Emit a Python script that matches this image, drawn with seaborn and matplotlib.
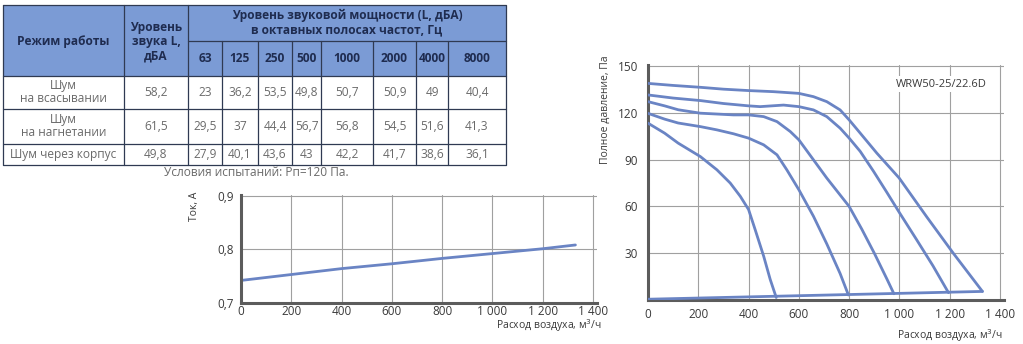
import numpy as np
import pandas as pd
import matplotlib
matplotlib.use("Agg")
import matplotlib.pyplot as plt
import seaborn as sns
from matplotlib.patches import Rectangle

# ---------------- data ----------------
header_mode = "Режим работы"
header_level = "Уровень\nзвука L,\nдБА"
header_power = "Уровень звуковой мощности (L, дБА)\nв октавных полосах частот, Гц"
modes = ["Шум\nна всасывании", "Шум\nна нагнетании", "Шум через корпус"]
total_level = ["58,2", "61,5", "49,8"]
freqs = ["63", "125", "250", "500", "1000", "2000", "4000", "8000"]
suction = ["23", "36,2", "53,5", "49,8", "50,7", "50,9", "49", "40,4"]
discharge = ["29,5", "37", "44,4", "56,7", "56,8", "54,5", "51,6", "41,3"]
casing = ["27,9", "40,1", "43,6", "43", "42,2", "41,7", "38,6", "36,1"]
caption = "Условия испытаний: Рп=120 Па."

current_flow = [0, 200, 400, 600, 800, 1000, 1200, 1330]
current_amp = [0.742, 0.753, 0.764, 0.773, 0.783, 0.792, 0.801, 0.808]

c1_x = [0, 100, 208, 300, 400, 499, 600, 658, 711, 764, 800, 844, 910, 999, 1109, 1215, 1330]
c1_y = [138.9, 137.6, 136.4, 135.2, 134.3, 133.6, 132.5, 130.4, 127.2, 121.9, 115.5, 107, 94.2, 78.2, 53.2, 29.8, 5.5]
c2_x = [0, 100, 208, 300, 400, 446, 539, 600, 658, 711, 764, 800, 844, 897, 950, 1000, 1067, 1133, 1195]
c2_y = [131.5, 129.5, 127.9, 126.0, 124.5, 124.0, 125.0, 124.0, 121.9, 117.6, 110.2, 103.8, 95.3, 82.5, 69.0, 56.0, 39.0, 22.0, 4.7]
c3_x = [0, 66, 120, 208, 340, 400, 460, 513, 566, 600, 658, 711, 800, 850, 900, 950, 978]
c3_y = [127.2, 124.5, 122.0, 119.8, 118.7, 118.7, 117.6, 114.4, 108.0, 102.7, 89.9, 78.2, 60.0, 45.5, 30.0, 13.5, 4.0]
c4_x = [0, 66, 120, 208, 274, 340, 400, 460, 513, 552, 600, 658, 711, 764, 797]
c4_y = [119.7, 116.0, 113.5, 111.2, 109.1, 106.6, 103.8, 99.5, 93.1, 83.5, 70.7, 53.7, 36.0, 17.0, 3.2]
c5_x = [0, 66, 120, 208, 274, 327, 367, 400, 426, 460, 486, 510]
c5_y = [113.4, 107.0, 100.6, 92.0, 83.5, 75.0, 66.5, 58.0, 45.2, 28.1, 13.2, 1.6]
sys_x = [0, 1330]
sys_y = [0.5, 5.5]

x_ticks = [0, 200, 400, 600, 800, 1000, 1200, 1400]
x_tick_labels = ["0", "200", "400", "600", "800", "1 000", "1 200", "1 400"]
cur_yticks = [0.7, 0.8, 0.9]
cur_ytick_labels = ["0,7", "0,8", "0,9"]
p_yticks = [30, 60, 90, 120, 150]
p_ytick_labels = ["30", "60", "90", "120", "150"]
model_name = "WRW50-25/22.6D"
xlabel = "Расход воздуха, м$^3$/ч"
cur_ylabel = "Ток, А"
p_ylabel = "Полное давление, Па"

# ---------------- style ----------------
sns.set_style("white")
plt.rcParams["font.family"] = ["Open Sans", "DejaVu Sans"]

W, H = 1023, 344
fig = plt.figure(figsize=(W / 100, H / 100), dpi=100)

line_c = "#6a84c4"
grid_c = "#a0a0a0"
spine_c = "#5c5c5c"
txt_c = "#3a3a3a"

# ---------------- table ----------------
tab = fig.add_axes([0, 0, 1, 1])
tab.set_xlim(0, W)
tab.set_ylim(H, 0)
tab.axis("off")

col_edges = [3, 124, 188, 222, 258, 292, 321, 373, 416, 448, 506]
row_edges = [5, 41, 76, 109, 144, 165]
head_fill = "#7b9bd5"
head_txt = "#1f2c50"
body_txt = "#6a6a6a"
lc = "#2f3a52"

tab.add_patch(Rectangle((col_edges[0], row_edges[0]), col_edges[-1] - col_edges[0],
                        row_edges[2] - row_edges[0], facecolor=head_fill, edgecolor="none"))
L, R = col_edges[0], col_edges[-1]
T, B = row_edges[0], row_edges[-1]
tab.plot([L, R, R, L, L], [T, T, B, B, T], color=lc, lw=0.9)
tab.plot([col_edges[2], R], [row_edges[1]] * 2, color=lc, lw=0.9)
for yy in row_edges[2:5]:
    tab.plot([L, R], [yy, yy], color=lc, lw=0.9)
for xx in col_edges[1:3]:
    tab.plot([xx, xx], [T, B], color=lc, lw=0.9)
for xx in col_edges[3:-1]:
    tab.plot([xx, xx], [row_edges[1], B], color=lc, lw=0.9)

hfs = 8.6
bfs = 8.6
tab.text((col_edges[0] + col_edges[1]) / 2, 42, header_mode, ha="center", va="center",
         fontsize=hfs, fontweight="bold", color=head_txt)
tab.text((col_edges[1] + col_edges[2]) / 2, 42, header_level, ha="center", va="center",
         fontsize=hfs, fontweight="bold", color=head_txt, linespacing=1.15)
tab.text((col_edges[2] + col_edges[-1]) / 2, 22.5, header_power, ha="center", va="center",
         fontsize=hfs, fontweight="bold", color=head_txt, linespacing=1.1)
for i, f in enumerate(freqs):
    tab.text((col_edges[i + 2] + col_edges[i + 3]) / 2, 58.5, f, ha="center", va="center",
             fontsize=hfs, fontweight="bold", color=head_txt)

rows = [suction, discharge, casing]
for r, (mode, lvl, vals) in enumerate(zip(modes, total_level, rows)):
    yc = (row_edges[r + 2] + row_edges[r + 3]) / 2
    tab.text((col_edges[0] + col_edges[1]) / 2, yc, mode, ha="center", va="center",
             fontsize=bfs, color=body_txt, linespacing=1.0)
    tab.text((col_edges[1] + col_edges[2]) / 2, yc, lvl, ha="center", va="center",
             fontsize=bfs, color=body_txt)
    for i, v in enumerate(vals):
        tab.text((col_edges[i + 2] + col_edges[i + 3]) / 2, yc, v, ha="center", va="center",
                 fontsize=bfs, color=body_txt)
tab.text(256, 172.5, caption, ha="center", va="center", fontsize=bfs, color=body_txt)


def style_axes(ax):
    ax.grid(True, color=grid_c, lw=0.8)
    ax.set_axisbelow(True)
    for s in ["top", "right"]:
        ax.spines[s].set_visible(False)
    for s in ["left", "bottom"]:
        ax.spines[s].set_color(spine_c)
        ax.spines[s].set_linewidth(2.2)
    ax.set_xlabel("")
    ax.set_ylabel("")


# ---------------- current chart ----------------
ax1 = fig.add_axes([241 / W, 1 - 303 / H, 355.8 / W, 108 / H])
sns.lineplot(x=current_flow, y=current_amp, ax=ax1, color=line_c, lw=2.0)
ax1.set_xlim(0, 1415)
ax1.set_ylim(0.7, 0.901)
ax1.set_xticks(x_ticks)
ax1.set_xticklabels(x_tick_labels)
ax1.set_yticks(cur_yticks)
ax1.set_yticklabels(cur_ytick_labels)
style_axes(ax1)
ax1.tick_params(axis="both", length=0, labelsize=8.5, colors=txt_c)
ax1.tick_params(axis="x", pad=1.5)
ax1.tick_params(axis="y", pad=5)

# ---------------- pressure chart ----------------
curves = [(c1_x, c1_y), (c2_x, c2_y), (c3_x, c3_y), (c4_x, c4_y), (c5_x, c5_y), (sys_x, sys_y)]
frames = []
for k, (xs, ys) in enumerate(curves):
    frames.append(pd.DataFrame({"flow": xs, "pressure": ys, "curve": k}))
pdf = pd.concat(frames, ignore_index=True)

ax2 = fig.add_axes([648 / W, 1 - 300 / H, 355.8 / W, 235 / H])
sns.lineplot(data=pdf, x="flow", y="pressure", units="curve", estimator=None, sort=False,
             ax=ax2, color=line_c, lw=2.0, legend=False, zorder=3)
for ln in ax2.get_lines():
    ln.set_solid_joinstyle("round")
ax2.set_xlim(0, 1415)
ax2.set_ylim(0, 150.7)
ax2.set_xticks(x_ticks)
ax2.set_xticklabels(x_tick_labels)
ax2.set_yticks(p_yticks)
ax2.set_yticklabels(p_ytick_labels)
style_axes(ax2)
ax2.tick_params(axis="both", length=0, labelsize=8.5, colors=txt_c)
ax2.tick_params(axis="x", pad=6)
ax2.tick_params(axis="y", pad=7)
ax2.text(1165, 138.5, model_name, ha="center", va="center", fontsize=8, color=txt_c,
         bbox=dict(facecolor="white", edgecolor="none", pad=1.5), zorder=4)

# ---------------- axis labels ----------------
fig.text(602 / W, 1 - 326 / H, xlabel, ha="right", va="center", fontsize=7.5, color=txt_c)
fig.text(1003 / W, 1 - 336 / H, xlabel, ha="right", va="center", fontsize=7.5, color=txt_c)
fig.text(194 / W, 1 - 206 / H, cur_ylabel, ha="center", va="center", rotation=90,
         fontsize=7.5, color=txt_c)
fig.text(605 / W, 1 - 110 / H, p_ylabel, ha="center", va="center", rotation=90,
         fontsize=7.5, color=txt_c)

fig.savefig("out.png", dpi=100)
